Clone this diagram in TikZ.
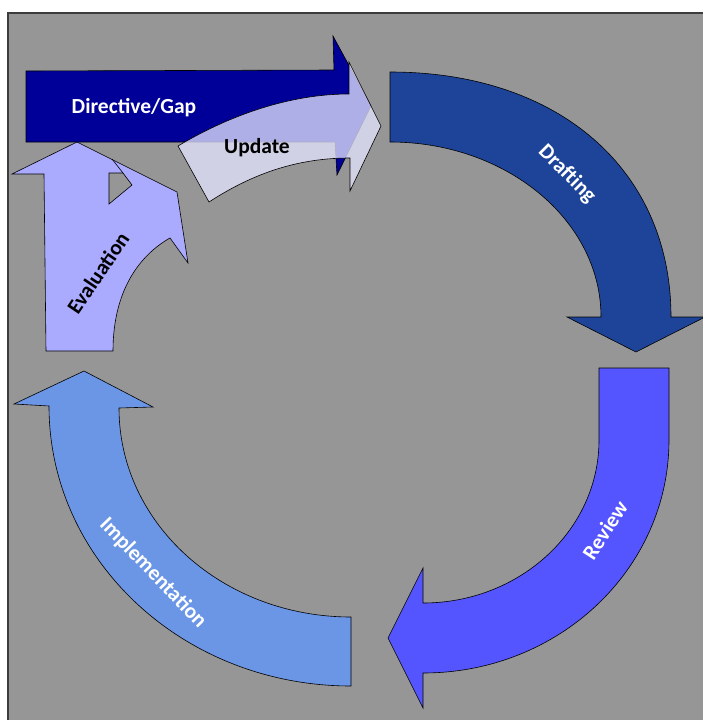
\documentclass[tikz,border=0pt]{standalone}
\usepackage{fontspec}
\setmainfont{Carlito}
\definecolor{c969696}{RGB}{150,150,150}
\definecolor{c3c3c3c}{RGB}{60,60,60}
\definecolor{c000099}{RGB}{0,0,153}
\definecolor{c1f4499}{RGB}{30,68,153}
\definecolor{c5555ff}{RGB}{85,85,255}
\definecolor{c6b95e5}{RGB}{107,149,229}
\definecolor{caaaaff}{RGB}{170,170,255}
\definecolor{ce4e4ff}{RGB}{228,228,255}
\tikzset{every path/.style={line width=0.6pt,line join=miter,color=black}}

\begin{document}
\begin{tikzpicture}[x=1pt,y=-1pt]
\useasboundingbox (0,0) rectangle (702,720);
\path[fill=c969696] (8,13) rectangle (712,730);
\draw[line width=1.6pt,color=c3c3c3c] (8,730) -- (8,13) -- (712,13);

% Drafting
\path[draw,fill=c1f4499] (390,72) .. controls (559,72) and (671,170) .. (671,317)
  -- (705,317) -- (636,352) -- (567,317) -- (601,317)
  .. controls (601,220) and (506,142) .. (390,142) -- cycle;
% Review
\path[draw,fill=c5555ff] (599,368) -- (669,368) -- (669,440)
  .. controls (669,569) and (559,673) .. (423,673)
  -- (423,708) -- (388,638) -- (423,568) -- (423,603)
  .. controls (520,603) and (599,530) .. (599,440) -- cycle;
% Implementation
\path[draw,fill=c6b95e5] (351,617) -- (351,686)
  .. controls (184,686) and (49,561) .. (49,406)
  -- (14,404) -- (84,371) -- (153,407) -- (119,408)
  .. controls (119,524) and (223,617) .. (351,617) -- cycle;
% Evaluation
\path[draw,fill=caaaaff] (46,351) -- (44,174) -- (12,174) -- (77,142) -- (177,192)
  -- (188,263) -- (170,238) .. controls (140,255) and (113,290) .. (113,351) -- cycle;
\path[draw,fill=c969696] (109,173) -- (123,173) -- (132,185) -- (109,204) -- cycle;
\path[draw] (112,159) -- (123,173);
% Directive/Gap
\path[draw,fill=c000099] (26,71) -- (334,70) -- (333,36) -- (371,106) -- (337,175)
  -- (335,142) -- (26,142) -- cycle;
% Update
\path[draw,fill=ce4e4ff,fill opacity=0.77] (178,146) .. controls (230,115) and (290,94) .. (349,94)
  -- (349,62) -- (381,126) -- (350,191) -- (350,158)
  .. controls (300,158) and (255,172) .. (209,202) -- cycle;

\begin{scope}[every node/.style={inner sep=0pt,font=\fontsize{21.5}{24}\selectfont\bfseries}]
\node[text=white] (dir) at (134,108) {Directive/Gap};
\node (upd) at (257,148) {Update};
\node[text=white,rotate=-45] (dra) at (567,174) {Drafting};
\node[text=white,rotate=57] (rev) at (605,530) {Review};
\node[text=white,rotate=-46] (imp) at (153,573) {Implementation};
\node[rotate=56] (eva) at (98,273) {Evaluation};
\end{scope}

\end{tikzpicture}
\end{document}
